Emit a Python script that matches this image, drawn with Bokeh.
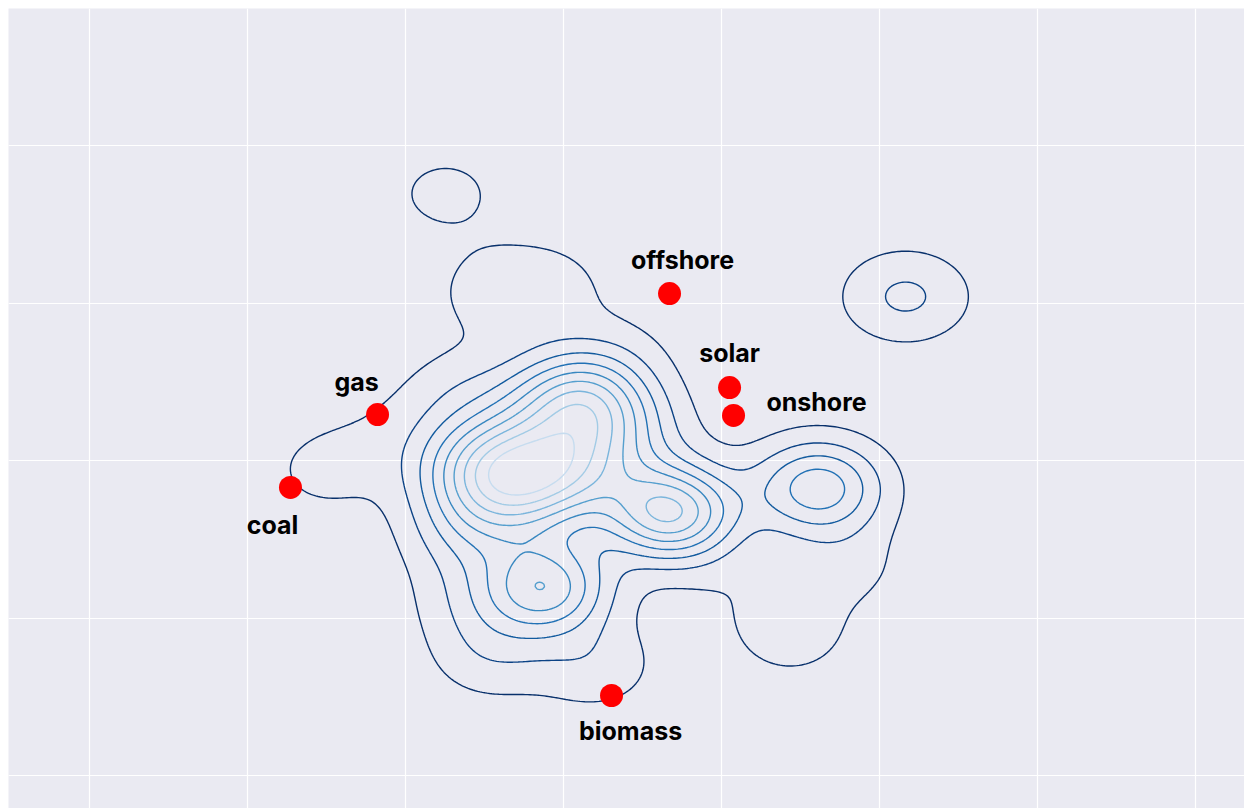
import numpy as np
from bokeh.plotting import figure
from bokeh.models import Range1d, FixedTicker, ColumnDataSource
from bokeh.embed import file_html
from bokeh.resources import INLINE
from bokeh.core.properties import value

# labelled technologies
tech = ["offshore", "solar", "onshore", "gas", "coal", "biomass"]
tech_x = [3.671, 4.051, 4.076, 1.823, 1.272, 3.304]
tech_y = [3.060, 2.463, 2.286, 2.292, 1.829, 0.508]

# sample behind the density estimate (x, y, count)
sample_x = [2.892, 3.076, 3.259,
            2.709, 2.892, 3.076, 3.259,
            2.342, 2.525, 2.709, 2.892, 3.076, 3.259,
            2.342, 2.525, 2.709, 2.892, 3.076,
            2.525, 2.709, 2.892,
            3.108, 2.633, 3.044, 3.456, 3.608, 3.734,
            4.538, 4.690, 4.614, 4.437, 4.804, 4.057,
            5.089, 5.241, 2.253,
            1.494, 1.842, 2.335, 2.570, 2.918, 3.361,
            2.361, 2.399, 2.886, 2.538, 3.203]
sample_y = [2.457, 2.457, 2.457,
            2.235, 2.235, 2.235, 2.235,
            2.051, 2.051, 2.051, 2.051, 2.051, 2.051,
            1.867, 1.867, 1.867, 1.867, 1.867,
            1.683, 1.683, 1.683,
            2.362, 1.924, 1.924, 2.190, 1.689, 1.657,
            1.848, 1.835, 1.797, 0.902, 1.321, 1.206,
            3.041, 3.041, 3.695,
            1.937, 2.222, 2.457, 3.067, 3.111, 2.730,
            1.524, 1.111, 1.194, 0.762, 0.698]
sample_n = [0.8, 0.8, 0.8,
            0.7, 0.2, 0.4, 0.8,
            1, 1, 1, 0.8, 0.6, 0.9,
            1, 1, 1, 1, 1.1,
            1, 1, 0.5,
            3.0, 1.4, 1.3, 1, 3.5, 3.5,
            1.5, 1.5, 1.5, 1.2, 0.9, 0.4,
            1, 1, 1,
            1, 0.45, 1, 1.1, 0.9, 0.5,
            1.5, 1, 5.2, 1.3, 1.3]

bw_x, bw_y = 0.2785, 0.2095          # kernel bandwidths
contour_levels = [k - 0.25 for k in range(1, 10)]
level_colors = ["#08306b", "#0b4285", "#115a9e", "#2171b5", "#3787c0",
                "#559fce", "#7ab5dc", "#a2cbe5", "#c6dcef"]

x_lo, x_hi = -0.5127, 7.310
y_lo, y_hi = -0.2095, 4.870

gx = np.linspace(x_lo, x_hi, 520)
gy = np.linspace(y_lo, y_hi, 340)
GX, GY = np.meshgrid(gx, gy)
Z = np.zeros_like(GX)
for sx, sy, n in zip(sample_x, sample_y, sample_n):
    Z += n * np.exp(-0.5 * (((GX - sx) / bw_x) ** 2 + ((GY - sy) / bw_y) ** 2))

p = figure(width=1244, height=808, output_backend="svg", toolbar_location=None,
           x_range=Range1d(x_lo, x_hi), y_range=Range1d(y_lo, y_hi),
           min_border_left=8, min_border_top=8, min_border_right=0,
           min_border_bottom=0)
p.background_fill_color = "#EAEAF2"
p.border_fill_color = "white"
p.outline_line_color = None
p.xaxis.visible = False
p.yaxis.visible = False
p.xaxis.ticker = FixedTicker(ticks=list(range(0, 8)))
p.yaxis.ticker = FixedTicker(ticks=list(range(0, 5)))
p.xgrid.ticker = FixedTicker(ticks=list(range(0, 8)))
p.ygrid.ticker = FixedTicker(ticks=list(range(0, 5)))
p.grid.grid_line_color = "white"
p.grid.grid_line_width = 1.2

p.contour(gx, gy, Z, contour_levels, line_color=level_colors,
          line_width=1.4, fill_color=None)

src = ColumnDataSource(dict(x=tech_x, y=tech_y, name=tech,
                            dx=[13, 0, 83, -21, -18, 19],
                            dy=[-34, -35, -13, -33, 38, 36]))
p.scatter("x", "y", source=src, size=23, color="#ff0000", line_color=None)
p.text("x", "y", text="name", source=src, x_offset="dx", y_offset="dy",
       text_align="center", text_baseline="middle",
       text_font=value("Inter"), text_font_style="bold",
       text_font_size="25px", text_color="black")

open("out.html", "w").write(file_html(p, INLINE))
